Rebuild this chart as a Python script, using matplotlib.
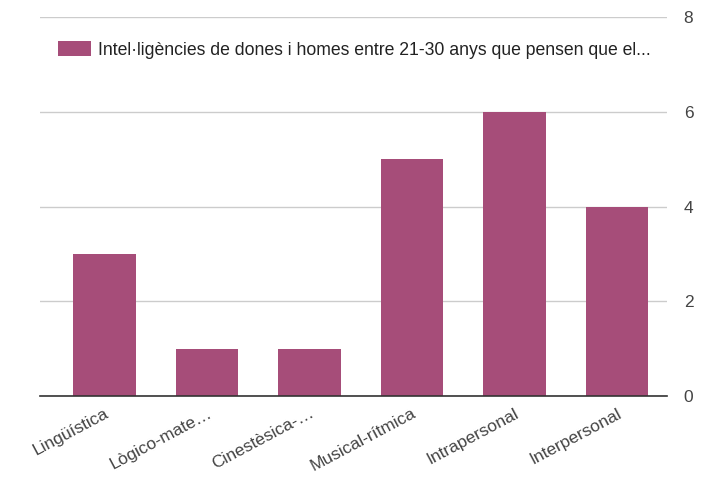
import numpy as np
import matplotlib.pyplot as plt

plt.rcParams['font.family'] = ['Liberation Sans', 'DejaVu Sans']

categories = ['Lingüística', 'Lògico-mate…', 'Cinestèsica-…', 'Musical-rítmica',
              'Intrapersonal', 'Interpersonal']
values = [3, 1, 1, 5, 6, 4]
series_name = 'Intel·ligències de dones i homes entre 21-30 anys que pensen que el...'
y_ticks = [0, 2, 4, 6, 8]

bar_color = '#a64d79'
text_color = '#444444'

fig = plt.figure(figsize=(7.13, 4.86), dpi=100)
ax = fig.add_axes([40 / 713, 1 - 396 / 486, 627 / 713, 379 / 486])

x = np.arange(len(categories))
bars = ax.bar(x, values, width=0.61, color=bar_color, label=series_name, zorder=3)

ax.set_xlim(-0.63, 5.49)
ax.set_ylim(0, 8)
ax.set_yticks(y_ticks)
ax.yaxis.tick_right()
ax.tick_params(axis='y', length=0, pad=12, labelsize=12.5, labelcolor=text_color)
ax.grid(axis='y', color='#cccccc', linewidth=1, zorder=0)

ax.set_xticks(x)
ax.set_xticklabels(categories, rotation=28, ha='right', rotation_mode='anchor',
                   fontsize=12.5, color=text_color)
ax.tick_params(axis='x', length=0, pad=7)

for side in ['top', 'right', 'left']:
    ax.spines[side].set_visible(False)
ax.spines['bottom'].set_color('#333333')
ax.spines['bottom'].set_linewidth(1.2)
ax.spines['bottom'].set_zorder(4)

leg = fig.legend(handles=[bars], labels=[series_name], loc='center left',
                 bbox_to_anchor=(42 / 713, 1 - 50 / 486), frameon=False,
                 handlelength=1.9, handleheight=0.9, handletextpad=0.4,
                 fontsize=12.7)
for t in leg.get_texts():
    t.set_color('#222222')

fig.savefig('out.png', dpi=100)
